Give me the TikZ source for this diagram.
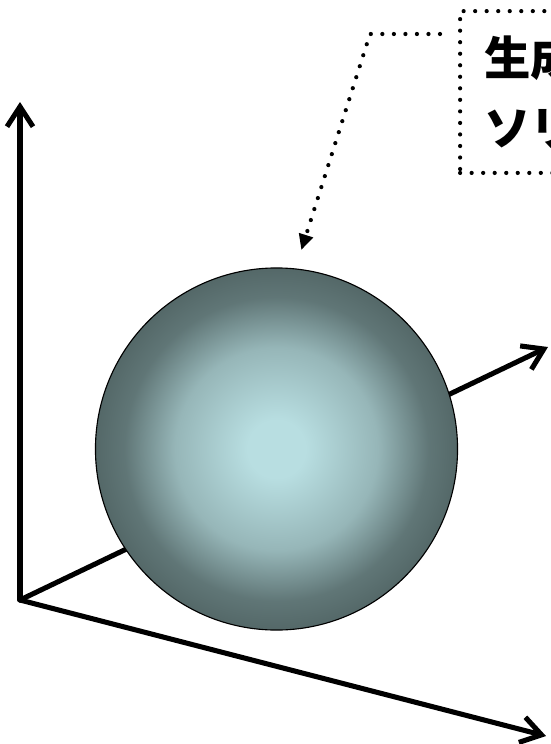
\documentclass[tikz,border=0pt]{standalone}
\usepackage{fontspec}
\usepackage{tikz}
\usepackage{xcolor}
\usetikzlibrary{arrows.meta,positioning,calc,shadings}
\newfontfamily\jpfont{Noto Sans CJK JP}
\definecolor{Ink}{HTML}{000000}
\definecolor{Glow}{HTML}{B8DEE1}
\definecolor{Slate}{HTML}{546868}
\pgfdeclareradialshading{sphereglow}{\pgfpoint{0bp}{0bp}}{%
  color(0bp)=(Glow); color(4bp)=(Glow); color(14bp)=(Glow!66!Slate);
  color(21bp)=(Slate!88!Glow); color(25bp)=(Slate); color(50bp)=(Slate)}

\begin{document}
\begin{tikzpicture}[x=0.025cm,y=-0.025cm,
  axis/.style={line width=3.6pt,Ink,line cap=round,-{Straight Barb[length=5mm,width=6.5mm,line width=3.6pt]}},
  callout/.style={line width=3pt,Ink,line cap=round,dash pattern=on 0pt off 8.2pt},
  every node/.style={font=\jpfont}]
  \useasboundingbox (0,0) rectangle (551,744);
  \clip (0,0) rectangle (551,744);
  \coordinate (O) at (20,600);
  \coordinate (zend) at (20,102);
  \coordinate (yend) at (548,347);
  \coordinate (xend) at (546,736);
  \draw[axis] (O) -- (zend);
  \draw[axis] (O) -- (yend);
  \draw[axis] (O) -- (xend);
  \node[circle,draw=Ink,line width=0.8pt,minimum size=9.05cm,inner sep=0pt,
        shading=sphereglow] (ball) at (276.5,449) {};
  \node[anchor=north west,draw=Ink,callout,inner sep=0.6cm,text width=5.9cm,align=left,
        font=\jpfont\bfseries\fontsize{33pt}{50pt}\selectfont] (note) at (458,9) {生成された\\ソリトン};
  \coordinate (bend) at (370,34);
  \draw[callout,shorten >=14pt,-{Triangle[length=0.38cm,width=0.38cm,line width=0pt]}]
    ([shift={(-18,25)}]note.north west) -- (bend) -- (ball.84);
\end{tikzpicture}
\end{document}
